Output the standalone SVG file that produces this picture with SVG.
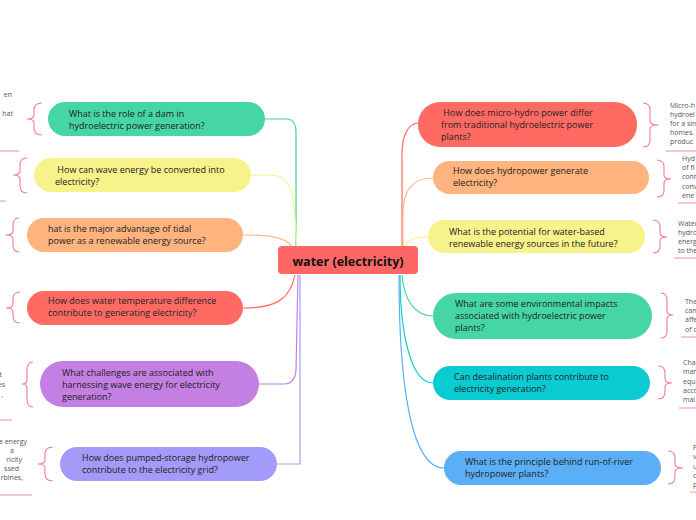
<svg xmlns="http://www.w3.org/2000/svg" width="696" height="520" viewBox="0 0 696 520">
<style>
.t{font-family:"Open Sans","Noto Sans","Liberation Sans",sans-serif;font-size:9px;fill:#222}
.n{font-family:"Open Sans","Noto Sans","Liberation Sans",sans-serif;font-size:7px;fill:#555}
.c{fill:none;stroke-width:1.2}
.b{fill:none;stroke:#f07aa5;stroke-width:1.1}
.u{stroke:#f0a6d2;stroke-width:1.3}
</style>
<rect width="696" height="520" fill="#fff"/>
<g id="connectors">
<path class="c" stroke="#45d6a4" d="M265,119 H288 Q296,120 296,132 V247"/>
<path class="c" stroke="#f7f28a" d="M251,175 H270 C285,175 292,185 294,205 L297,247"/>
<path class="c" stroke="#ffb37e" d="M243,235 C265,235 286,236 292,247"/>
<path class="c" stroke="#ff6b63" d="M243,308 C275,308 290,300 295,275"/>
<path class="c" stroke="#c47fe3" d="M259,384 H284 Q295,384 296,370 L298,275"/>
<path class="c" stroke="#a29bf9" d="M277,464 H300 V275"/>
<path class="c" stroke="#ff6b63" d="M418,123 C408,124 402,135 402,155 V247"/>
<path class="c" stroke="#ffb37e" d="M433,178 C412,178 404,190 403,210 V247"/>
<path class="c" stroke="#f7f28a" d="M428,237 C415,237 407,240 405,247"/>
<path class="c" stroke="#45d6a4" d="M402,275 C404,300 415,316 433,316"/>
<path class="c" stroke="#0bcbd2" d="M400,275 C400,330 410,383 433,383"/>
<path class="c" stroke="#5aaff7" d="M399,275 C399,380 410,468 444,468"/>
</g>
<g id="center">
<rect x="278" y="246" width="140" height="28" rx="4" fill="#ff6666"/>
<text x="348" y="266" text-anchor="middle" font-family="'Open Sans','Noto Sans','Liberation Sans',sans-serif" font-size="12.5" font-weight="bold" fill="#111">water (electricity)</text>
</g>
<g id="l1">
<rect x="48" y="102" width="217" height="34" rx="17" fill="#45d6a4"/>
<text class="t" x="69" y="117">What is the role of a dam in</text>
<text class="t" x="69" y="129">hydroelectric power generation?</text>
<path class="b" d="M42,103 Q34,103 34,110 L34,115 Q34,119 27,119 Q34,119 34,123 L34,128 Q34,135 42,135"/>
<text class="n" x="12" y="97" text-anchor="end">en</text>
<text class="n" x="13" y="116" text-anchor="end">hat</text>
<line class="u" x1="0" y1="151" x2="19" y2="151"/>
</g>
<g id="l2">
<rect x="34" y="158" width="217" height="34" rx="17" fill="#f7f28a"/>
<text class="t" x="55" y="173" xml:space="preserve"> How can wave energy be converted into</text>
<text class="t" x="55" y="185">electricity?</text>
<path class="b" d="M27,158 Q20,158 20,165 L20,171 Q20,175 13,175 Q20,175 20,179 L20,186 Q20,193 27,193"/>
<line class="u" x1="0" y1="201" x2="6" y2="201"/>
</g>
<g id="l3">
<rect x="27" y="218" width="216" height="34" rx="17" fill="#ffb37e"/>
<text class="t" x="48" y="232">hat is the major advantage of tidal</text>
<text class="t" x="48" y="244">power as a renewable energy source?</text>
<path class="b" d="M19,218 Q13,218 13,225 L13,231 Q13,235 6,235 Q13,235 13,239 L13,245 Q13,252 19,252"/>
</g>
<g id="l4">
<rect x="27" y="291" width="216" height="34" rx="17" fill="#ff6b63"/>
<text class="t" x="48" y="304">How does water temperature difference</text>
<text class="t" x="48" y="316">contribute to generating electricity?</text>
<path class="b" d="M20,292 Q13,292 13,299 L13,304 Q13,308 6,308 Q13,308 13,312 L13,316 Q13,323 20,323"/>
</g>
<g id="l5">
<rect x="40" y="361" width="219" height="46" rx="23" fill="#c47fe3"/>
<text class="t" x="62" y="376">What challenges are associated with</text>
<text class="t" x="62" y="388">harnessing wave energy for electricity</text>
<text class="t" x="62" y="400">generation?</text>
<path class="b" d="M33,362 Q27,362 27,370 L27,380 Q27,384 22,384 Q27,384 27,388 L27,399 Q27,407 33,407"/>
<text class="n" x="2" y="377" text-anchor="end">t</text>
<text class="n" x="5" y="387" text-anchor="end">es</text>
<text class="n" x="3" y="397" text-anchor="end">,</text>
<line class="u" x1="0" y1="420" x2="12" y2="420"/>
</g>
<g id="l6">
<rect x="60" y="447" width="217" height="34" rx="17" fill="#a29bf9"/>
<text class="t" x="82" y="461">How does pumped-storage hydropower</text>
<text class="t" x="82" y="473">contribute to the electricity grid?</text>
<path class="b" d="M53,447 Q45,447 45,454 L45,460 Q45,464 38,464 Q45,464 45,468 L45,474 Q45,481 53,481"/>
<text class="n" x="27" y="444" text-anchor="end">e energy</text>
<text class="n" x="14" y="453" text-anchor="end">a</text>
<text class="n" x="22" y="462" text-anchor="end">ricity</text>
<text class="n" x="19" y="471" text-anchor="end">ssed</text>
<text class="n" x="23" y="480" text-anchor="end">rbines,</text>
<line class="u" x1="0" y1="495" x2="32" y2="495"/>
</g>
<g id="r1">
<rect x="418" y="102" width="219" height="45" rx="22" fill="#ff6b63"/>
<text class="t" x="441" y="116" xml:space="preserve"> How does micro-hydro power differ</text>
<text class="t" x="441" y="128">from traditional hydroelectric power</text>
<text class="t" x="441" y="140">plants?</text>
<path class="b" d="M643,103 Q650,103 650,110 L650,121 Q650,125 658,125 Q650,125 650,129 L650,140 Q650,147 643,147"/>
<text class="n" x="670" y="108">Micro-h</text>
<text class="n" x="670" y="117">hydroel</text>
<text class="n" x="670" y="126">for a sin</text>
<text class="n" x="670" y="135">homes.</text>
<text class="n" x="670" y="144">produc</text>
<line class="u" x1="666" y1="151" x2="696" y2="151"/>
</g>
<g id="r2">
<rect x="433" y="161" width="216" height="33" rx="16.5" fill="#ffb37e"/>
<text class="t" x="453" y="174">How does hydropower generate</text>
<text class="t" x="453" y="186">electricity?</text>
<path class="b" d="M657,160 Q664,160 664,167 L664,175 Q664,179 671,179 Q664,179 664,183 L664,190 Q664,197 657,197"/>
<text class="n" x="682" y="161">Hyd</text>
<text class="n" x="682" y="170">of fl</text>
<text class="n" x="682" y="179">conn</text>
<text class="n" x="682" y="189">conv</text>
<text class="n" x="682" y="198">ene</text>
<line class="u" x1="678" y1="203" x2="696" y2="203"/>
</g>
<g id="r3">
<rect x="428" y="220" width="217" height="33" rx="16.5" fill="#f7f28a"/>
<text class="t" x="449" y="235">What is the potential for water-based</text>
<text class="t" x="449" y="247">renewable energy sources in the future?</text>
<path class="b" d="M653,220 Q660,220 660,227 L660,233 Q660,237 667,237 Q660,237 660,241 L660,246 Q660,253 653,253"/>
<text class="n" x="678" y="226">Water</text>
<text class="n" x="678" y="235">hydro</text>
<text class="n" x="678" y="244">energ</text>
<text class="n" x="678" y="253">to the</text>
<line class="u" x1="674" y1="258" x2="696" y2="258"/>
</g>
<g id="r4">
<rect x="433" y="293" width="219" height="46" rx="23" fill="#45d6a4"/>
<text class="t" x="455" y="307">What are some environmental impacts</text>
<text class="t" x="455" y="319">associated with hydroelectric power</text>
<text class="t" x="455" y="331">plants?</text>
<path class="b" d="M661,293 Q667,293 667,300 L667,311 Q667,315 673,315 Q667,315 667,319 L667,331 Q667,338 661,338"/>
<text class="n" x="685" y="304">The</text>
<text class="n" x="685" y="313">can</text>
<text class="n" x="685" y="322">affe</text>
<text class="n" x="685" y="332">of c</text>
<line class="u" x1="681" y1="337" x2="696" y2="337"/>
</g>
<g id="r5">
<rect x="433" y="366" width="217" height="34" rx="17" fill="#0bcbd2"/>
<text class="t" x="454" y="380">Can desalination plants contribute to</text>
<text class="t" x="454" y="392">electricity generation?</text>
<path class="b" d="M658,366 Q665,366 665,373 L665,379 Q665,383 672,383 Q665,383 665,387 L665,392 Q665,399 658,399"/>
<text class="n" x="683" y="365">Cha</text>
<text class="n" x="683" y="374">man</text>
<text class="n" x="683" y="384">equ</text>
<text class="n" x="683" y="393">acco</text>
<text class="n" x="683" y="402">mai</text>
<line class="u" x1="679" y1="408" x2="696" y2="408"/>
</g>
<g id="r6">
<rect x="444" y="451" width="217" height="34" rx="17" fill="#5aaff7"/>
<text class="t" x="465" y="465">What is the principle behind run-of-river</text>
<text class="t" x="465" y="477">hydropower plants?</text>
<path class="b" d="M668,451 Q675,451 675,458 L675,464 Q675,468 683,468 Q675,468 675,472 L675,477 Q675,484 668,484"/>
<text class="n" x="693" y="450">F</text>
<text class="n" x="693" y="459">v</text>
<text class="n" x="693" y="469">u</text>
<text class="n" x="693" y="478">c</text>
<text class="n" x="693" y="487">p</text>
<line class="u" x1="690" y1="492" x2="696" y2="492"/>
</g>
</svg>
